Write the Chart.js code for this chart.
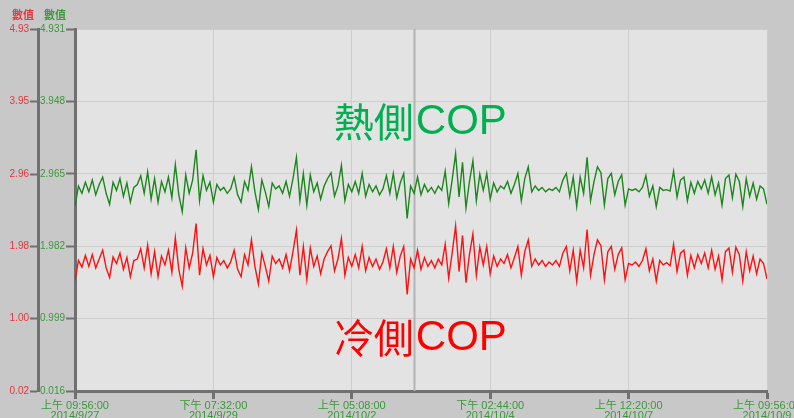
<!DOCTYPE html>
<html>
<head>
<meta charset="utf-8">
<title>COP</title>
<script src="https://cdn.jsdelivr.net/npm/chart.js@4.4.1/dist/chart.umd.min.js"></script>
<style>
  html, body { margin: 0; padding: 0; background: #c8c8c8; }
  canvas { display: block; }
</style>
</head>
<body>
<canvas id="copChart" width="794" height="418"></canvas>
<script>
// x tick labels (time + date)
const xTickValues = [0, 40, 80, 120, 160, 200];
const xLabels = [
  ['上午 09:56:00', '2014/9/27'],
  ['下午 07:32:00', '2014/9/29'],
  ['上午 05:08:00', '2014/10/2'],
  ['下午 02:44:00', '2014/10/4'],
  ['上午 12:20:00', '2014/10/7'],
  ['上午 09:56:00', '2014/10/9']
];

// left axes
const redTickValues = [0.02, 1.00, 1.98, 2.96, 3.95, 4.93];
const redTickLabels = ['0.02', '1.00', '1.98', '2.96', '3.95', '4.93'];
const greenTickValues = [0.016, 0.999, 1.982, 2.965, 3.948, 4.931];
const greenTickLabels = ['0.016', '0.999', '1.982', '2.965', '3.948', '4.931'];

// 熱側COP
const greenValues = [
  2.52,2.80,2.70,2.85,2.72,2.88,2.68,2.82,2.92,2.70,
  2.55,2.85,2.74,2.90,2.66,2.84,2.58,2.78,2.82,2.94,
  2.70,2.99,2.62,2.90,2.58,2.86,2.72,2.92,2.64,3.09,
  2.68,2.45,2.95,2.70,2.88,3.29,2.60,2.94,2.74,2.85,
  2.58,2.82,2.74,2.78,2.70,2.76,2.92,2.68,2.58,2.86,
  2.74,3.06,2.72,2.48,2.88,2.72,2.52,2.84,2.76,2.80,
  2.70,2.86,2.66,2.90,3.19,2.60,2.97,2.54,2.95,2.72,
  2.84,2.62,2.80,2.90,2.98,2.66,2.80,3.08,2.60,2.82,
  2.72,2.86,2.70,2.97,2.66,2.82,2.72,2.80,2.68,2.76,
  2.94,2.70,2.97,2.64,2.84,2.97,2.36,2.80,2.70,2.92,
  2.68,2.82,2.72,2.78,2.70,2.80,2.74,3.00,2.56,2.88,
  3.24,2.65,3.12,2.50,2.86,3.14,2.60,2.96,2.74,2.97,
  2.62,2.84,2.72,2.80,2.76,2.86,2.70,2.82,2.97,2.60,
  2.90,3.06,2.72,2.80,2.74,2.78,2.72,2.76,2.74,2.78,
  2.72,2.88,2.97,2.66,2.92,2.52,2.92,2.70,3.19,2.60,
  2.86,3.06,2.98,2.54,2.90,2.97,2.68,2.86,2.95,2.54,
  2.76,2.74,2.76,2.72,2.78,2.94,2.66,2.80,2.52,2.78,
  2.74,2.75,2.73,3.00,2.65,2.88,2.92,2.60,2.85,2.70,
  2.86,2.76,2.88,2.70,2.92,2.68,2.84,2.54,2.90,2.95,
  2.64,2.96,2.86,2.52,2.90,2.66,2.84,2.62,2.80,2.76,
  2.55
];

// 冷側COP
const redValues = [
  1.52,1.79,1.70,1.86,1.71,1.87,1.69,1.81,1.93,1.69,
  1.56,1.84,1.75,1.89,1.67,1.83,1.57,1.79,1.81,1.95,
  1.69,2.00,1.61,1.91,1.57,1.85,1.73,1.93,1.63,2.10,
  1.67,1.44,1.96,1.69,1.89,2.29,1.59,1.95,1.73,1.86,
  1.57,1.83,1.73,1.79,1.69,1.77,1.93,1.67,1.57,1.87,
  1.73,2.07,1.71,1.47,1.89,1.71,1.51,1.85,1.75,1.81,
  1.69,1.87,1.65,1.91,2.20,1.59,1.98,1.53,1.96,1.71,
  1.85,1.61,1.81,1.91,1.99,1.65,1.81,2.09,1.59,1.83,
  1.71,1.87,1.69,1.98,1.65,1.83,1.71,1.81,1.67,1.77,
  1.95,1.69,1.98,1.63,1.85,1.98,1.33,1.81,1.69,1.93,
  1.67,1.83,1.71,1.79,1.69,1.81,1.73,2.01,1.55,1.89,
  2.26,1.64,2.13,1.49,1.87,2.15,1.59,1.97,1.73,1.98,
  1.61,1.85,1.71,1.81,1.75,1.87,1.69,1.83,1.98,1.59,
  1.91,2.07,1.71,1.81,1.73,1.79,1.71,1.77,1.73,1.79,
  1.71,1.89,1.98,1.65,1.93,1.51,1.93,1.69,2.21,1.59,
  1.87,2.07,1.99,1.53,1.91,1.98,1.67,1.87,1.96,1.53,
  1.75,1.73,1.77,1.71,1.79,1.95,1.65,1.81,1.51,1.79,
  1.73,1.76,1.72,2.01,1.64,1.89,1.93,1.59,1.86,1.69,
  1.87,1.75,1.89,1.69,1.93,1.67,1.85,1.53,1.91,1.96,
  1.63,1.97,1.87,1.51,1.91,1.65,1.85,1.61,1.81,1.75,
  1.54
];

const cursorX = 98.0;

const labelFont = '"Liberation Sans", "Noto Sans CJK TC", sans-serif';
const axisGrey = '#707070';
const gridGrey = '#cdcdcd';
const redText = '#e8343c';
const greenText = '#3a983a';

const decor = {
  id: 'decor',
  beforeDraw(chart) {
    const { ctx, chartArea: a } = chart;
    ctx.save();
    ctx.fillStyle = '#c8c8c8';
    ctx.fillRect(0, 0, chart.width, chart.height);
    ctx.fillStyle = '#e3e3e3';
    ctx.fillRect(a.left, a.top, a.right - a.left, a.bottom - a.top);
    ctx.restore();
  },
  beforeDatasetsDraw(chart) {
    const { ctx, chartArea: a, scales } = chart;
    ctx.save();
    // cursor line
    const cx = Math.round(scales.x.getPixelForValue(cursorX)) + 0.5;
    ctx.strokeStyle = '#b4b4b4';
    ctx.lineWidth = 2;
    ctx.beginPath();
    ctx.moveTo(cx, a.top);
    ctx.lineTo(cx, a.bottom);
    ctx.stroke();

    // big series labels
    const x0 = scales.x.getPixelForValue(74.8);
    const drawLabel = (text1, text2, color, y) => {
      ctx.fillStyle = color;
      ctx.textBaseline = 'middle';
      ctx.textAlign = 'left';
      ctx.font = '40px "Noto Sans CJK TC"';
      ctx.fillText(text1, x0, y);
      const w = ctx.measureText(text1).width;
      ctx.font = '42px "Liberation Sans"';
      ctx.fillText(text2, x0 + w + 2, y + 1);
    };
    drawLabel('熱側', 'COP', '#00b050', scales.yGreen.getPixelForValue(3.67));
    drawLabel('冷側', 'COP', '#ff0000', scales.yRed.getPixelForValue(0.74));
    ctx.restore();
  },
  afterDraw(chart) {
    const { ctx, scales } = chart;
    ctx.save();
    ctx.font = 'bold 11px "Noto Sans CJK TC"';
    ctx.textAlign = 'center';
    ctx.textBaseline = 'middle';
    ctx.fillStyle = redText;
    ctx.fillText('數值', scales.yRed.left + 23, 15);
    ctx.fillStyle = greenText;
    ctx.fillText('數值', scales.yGreen.left + 17, 15);
    ctx.restore();
  }
};

const data = {
  labels: greenValues.map((v, i) => i),
  datasets: [
    {
      label: '熱側COP',
      data: greenValues,
      yAxisID: 'yGreen',
      borderColor: '#1c861c',
      borderWidth: 1.4,
      pointRadius: 0,
      tension: 0,
      fill: false
    },
    {
      label: '冷側COP',
      data: redValues,
      yAxisID: 'yRed',
      borderColor: '#ff1010',
      borderWidth: 1.4,
      pointRadius: 0,
      tension: 0,
      fill: false
    }
  ]
};

const config = {
  type: 'line',
  data: data,
  plugins: [decor],
  options: {
    responsive: false,
    animation: false,
    devicePixelRatio: 1,
    layout: { padding: { top: 29, right: 27, left: 0, bottom: 0 } },
    plugins: {
      legend: { display: false },
      tooltip: { enabled: false }
    },
    scales: {
      x: {
        type: 'linear',
        min: 0,
        max: 200,
        afterBuildTicks: s => { s.ticks = xTickValues.map(v => ({ value: v })); },
        afterFit: s => { s.height = 27; s.paddingLeft = 0; s.paddingRight = 0; },
        ticks: {
          autoSkip: false,
          maxRotation: 0,
          minRotation: 0,
          padding: 2,
          color: greenText,
          font: { family: labelFont, size: 11, lineHeight: 0.9 },
          callback: (v, i) => xLabels[i]
        },
        grid: { color: gridGrey, tickColor: axisGrey, tickLength: 8, tickWidth: 3 },
        border: { color: axisGrey, width: 3 }
      },
      yGreen: {
        type: 'linear',
        position: 'left',
        weight: 0,
        min: 0.016,
        max: 4.931,
        afterBuildTicks: s => { s.ticks = greenTickValues.map(v => ({ value: v })); },
        afterFit: s => { s.width = 37; s.paddingTop = 0; s.paddingBottom = 0; },
        ticks: {
          autoSkip: false,
          padding: 1,
          color: greenText,
          font: { family: labelFont, size: 10 },
          callback: (v, i) => greenTickLabels[i]
        },
        grid: { color: gridGrey, tickColor: axisGrey, tickLength: 9, tickWidth: 2 },
        border: { color: axisGrey, width: 3 }
      },
      yRed: {
        type: 'linear',
        position: 'left',
        weight: 1,
        min: 0.02,
        max: 4.93,
        afterBuildTicks: s => { s.ticks = redTickValues.map(v => ({ value: v })); },
        afterFit: s => { s.width = 38; s.paddingTop = 0; s.paddingBottom = 0; },
        ticks: {
          autoSkip: false,
          padding: 1,
          color: redText,
          font: { family: labelFont, size: 10 },
          callback: (v, i) => redTickLabels[i]
        },
        grid: { drawOnChartArea: false, tickColor: axisGrey, tickLength: 8, tickWidth: 2 },
        border: { color: axisGrey, width: 3 }
      }
    }
  }
};

const copChart = new Chart(document.getElementById('copChart').getContext('2d'), config);
</script>
</body>
</html>
